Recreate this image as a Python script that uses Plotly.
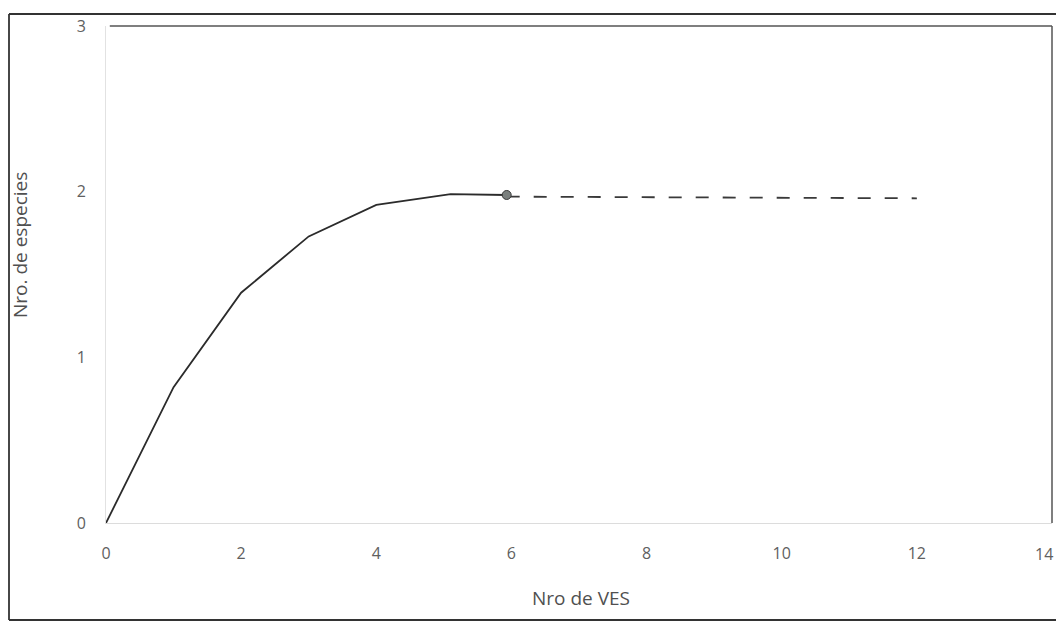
import plotly.graph_objects as go

# Data
ves = [0, 1, 2, 3, 4, 5.1, 5.93]
especies = [0, 0.82, 1.39, 1.73, 1.92, 1.985, 1.98]
asym_x = [5.93, 12]
asym_y = [1.97, 1.96]
x_ticks = [0, 2, 4, 6, 8, 10, 12, 14]
y_ticks = [0, 1, 2, 3]

fig = go.Figure()
fig.add_trace(go.Scatter(x=ves, y=especies, mode="lines",
                         line=dict(color="#2b2b2b", width=1.8), showlegend=False))
fig.add_trace(go.Scatter(x=asym_x, y=asym_y, mode="lines",
                         line=dict(color="#3a3a3a", width=1.8, dash="13px,14px"), showlegend=False))
fig.add_trace(go.Scatter(x=[ves[-1]], y=[especies[-1]], mode="markers",
                         marker=dict(size=9, color="#7a7f7d", line=dict(color="#3a3a3a", width=1)),
                         showlegend=False))

FONT = "Open Sans, Carlito, sans-serif"
tickfont = dict(family=FONT, size=16, color="#606060")
fig.update_xaxes(range=[0, 14], tickvals=x_ticks[:-1], showgrid=False, zeroline=False,
                 showline=True, linecolor="#dcdcdc", linewidth=1, ticks="",
                 tickfont=tickfont, ticklabelstandoff=16)
fig.update_yaxes(range=[0, 3], tickvals=y_ticks, showgrid=False, zeroline=False,
                 showline=True, linecolor="#e2e2e2", linewidth=1, ticks="",
                 tickfont=tickfont, ticklabelstandoff=16)

W, H = 1056, 623
L, R, T, B = 106, 4, 26, 100
PAGE_LEFT, PAGE_RIGHT, PAGE_TOP, PAGE_BOTTOM = L, W - R, T, H - B
pw, ph = PAGE_RIGHT - PAGE_LEFT, PAGE_BOTTOM - PAGE_TOP

def px(x):
    return (x - PAGE_LEFT) / pw

def py(y):
    return (PAGE_BOTTOM - y) / ph

shapes = [
    dict(type="line", xref="paper", yref="paper", x0=0.004, x1=1, y0=1, y1=1,
         line=dict(color="#555555", width=1.5)),
    dict(type="line", xref="paper", yref="paper", x0=1, x1=1, y0=0.0, y1=1,
         line=dict(color="#555555", width=1.5)),
    dict(type="line", xref="paper", yref="paper", x0=px(9), x1=px(1060), y0=py(14), y1=py(14),
         line=dict(color="#333333", width=1.8)),
    dict(type="line", xref="paper", yref="paper", x0=px(9), x1=px(9), y0=py(14), y1=py(620),
         line=dict(color="#333333", width=1.8)),
    dict(type="line", xref="paper", yref="paper", x0=px(9), x1=px(1060), y0=py(620), y1=py(620),
         line=dict(color="#333333", width=1.8)),
]

annotations = [
    dict(text="Nro. de especies", xref="paper", yref="paper", x=px(20), y=py(245),
         textangle=-90, showarrow=False, xanchor="center", yanchor="middle",
         font=dict(family=FONT, size=19, color="#505050")),
    dict(text="Nro de VES", xref="paper", yref="paper", x=px(581), y=py(598),
         showarrow=False, xanchor="center", yanchor="middle",
         font=dict(family=FONT, size=19, color="#505050")),
    # last x tick label, kept inside the right edge
    dict(text=str(x_ticks[-1]), xref="paper", yref="paper", x=px(1055), y=py(554),
         showarrow=False, xanchor="right", yanchor="middle",
         font=tickfont),
]

fig.update_layout(width=W, height=H, margin=dict(l=L, r=R, t=T, b=B),
                  paper_bgcolor="white", plot_bgcolor="white",
                  shapes=shapes, annotations=annotations)

fig.write_html("out.html", config={"displayModeBar": False},
               post_script="document.body.style.margin='0';document.body.style.overflow='hidden';")
